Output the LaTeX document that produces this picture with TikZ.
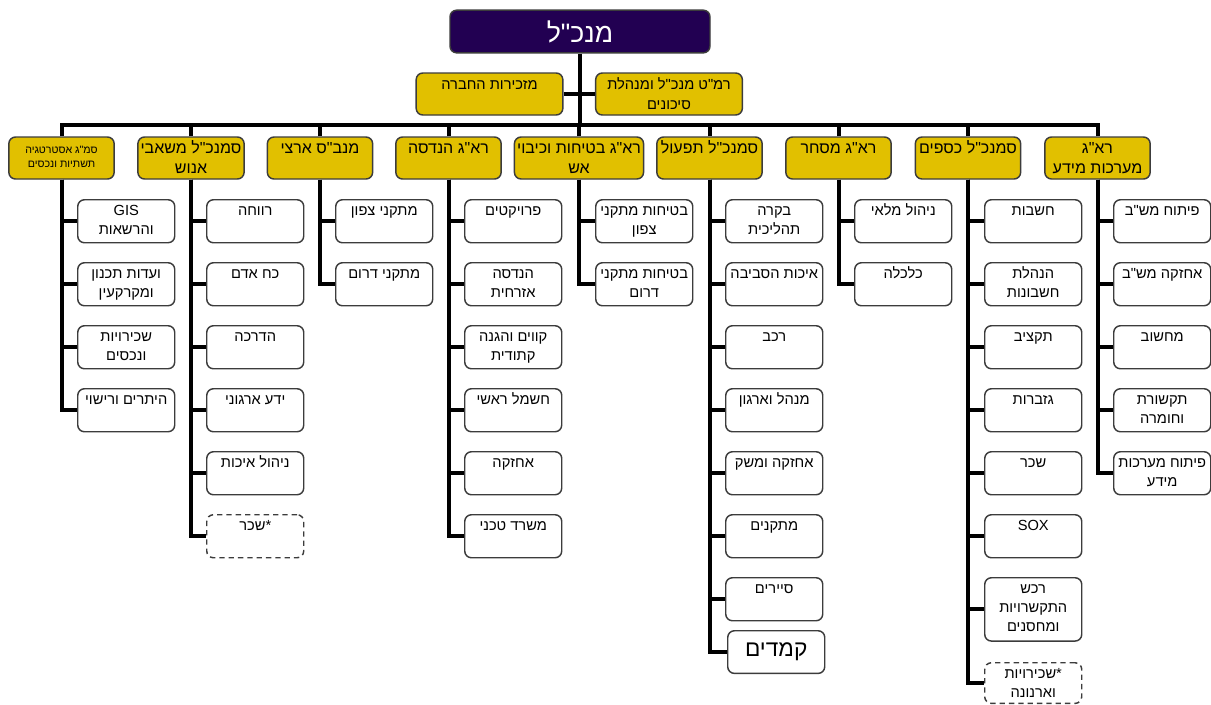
\documentclass[tikz,border=0pt]{standalone}
\usepackage{fontspec}
\setmainfont{Liberation Sans}
\newfontfamily\hebfont[Script=Hebrew]{Liberation Sans}
\TeXXeTstate=1
\newcommand{\heb}[1]{\beginR #1\endR}
\newcommand{\two}[2]{\begin{tabular}[t]{@{}c@{}}#1\\#2\end{tabular}}
\newcommand{\three}[3]{\begin{tabular}[t]{@{}c@{}}#1\\#2\\#3\end{tabular}}
\definecolor{ceopurple}{RGB}{34,0,82}
\definecolor{headyellow}{RGB}{225,192,0}
\definecolor{boxgray}{RGB}{60,60,60}

\begin{document}
\begin{tikzpicture}[x=0.75pt,y=-0.75pt]
            \tikzset{box/.style = {draw=boxgray, line width=1.1pt, rounded corners=5pt, inner sep=2pt}}
            \tikzset{ceobox/.style = {box, fill=ceopurple, text=white, minimum width=195pt, minimum height=32pt, font=\hebfont\fontsize{20}{24}\selectfont}}
            \tikzset{headbox/.style = {box, fill=headyellow, minimum width=79pt, text height=10pt, text depth=17.5pt, font=\hebfont\fontsize{12}{15}\selectfont}}
            \tikzset{kidbox/.style = {box, anchor=north west, minimum width=72.75pt, text height=10pt, text depth=18.25pt, font=\hebfont\fontsize{11}{14}\selectfont}}
            \tikzset{kiddash/.style = {kidbox, dash pattern=on 4pt off 3pt}}
            \tikzset{edge/.style = {line width=3pt}}
            \useasboundingbox (0,0) rectangle (1211,704);
            \node[ceobox] (ceo) at (580, 31.5) {\heb{מנכ"ל}};
            \node[headbox, minimum width=110pt, font=\hebfont\fontsize{11}{15}\selectfont] (secr) at (489.5, 94) {\heb{מזכירות החברה}};
            \node[headbox, minimum width=110pt, font=\hebfont\fontsize{11}{15}\selectfont] (ramat) at (669, 94) {\two{\heb{רמ"ט מנכ"ל ומנהלת}}{\heb{סיכונים}}};
            \coordinate (bar) at (580, 125);
            \node[headbox, font=\hebfont\fontsize{8}{11}\selectfont] (strat) at (61.5, 158) {\two{\heb{סמ"ג אסטרטגיה}}{\heb{תשתיות ונכסים}}};
            \node[headbox] (hr) at (191, 158) {\two{\heb{סמנכ"ל משאבי}}{\heb{אנוש}}};
            \node[headbox] (mnbs) at (320, 158) {\heb{מנב"ס ארצי}};
            \node[headbox] (eng) at (448.5, 158) {\heb{רא"ג הנדסה}};
            \node[headbox, minimum width=91.5pt] (safe) at (579, 158) {\two{\heb{רא"ג בטיחות וכיבוי}}{\heb{אש}}};
            \node[headbox] (ops) at (709.5, 158) {\heb{סמנכ"ל תפעול}};
            \node[headbox] (trade) at (838.5, 158) {\heb{רא"ג מסחר}};
            \node[headbox] (fin) at (968, 158) {\heb{סמנכ"ל כספים}};
            \node[headbox] (info) at (1097.5, 158) {\two{\heb{רא"ג}}{\heb{מערכות מידע}}};
            \node[kidbox] (strat1) at (77, 199) {\two{GIS}{\heb{והרשאות}}};
            \node[kidbox] (strat2) at (77, 262) {\two{\heb{ועדות תכנון}}{\heb{ומקרקעין}}};
            \node[kidbox] (strat3) at (77, 325) {\two{\heb{שכירויות}}{\heb{ונכסים}}};
            \node[kidbox] (strat4) at (77, 388) {\heb{היתרים ורישוי}};
            \node[kidbox] (hr1) at (206, 199) {\heb{רווחה}};
            \node[kidbox] (hr2) at (206, 262) {\heb{כח אדם}};
            \node[kidbox] (hr3) at (206, 325) {\heb{הדרכה}};
            \node[kidbox] (hr4) at (206, 388) {\heb{ידע ארגוני}};
            \node[kidbox] (hr5) at (206, 451) {\heb{ניהול איכות}};
            \node[kiddash] (hr6) at (206, 514) {\heb{*שכר}};
            \node[kidbox] (mnbs1) at (335, 199) {\heb{מתקני צפון}};
            \node[kidbox] (mnbs2) at (335, 262) {\heb{מתקני דרום}};
            \node[kidbox] (eng1) at (464, 199) {\heb{פרויקטים}};
            \node[kidbox] (eng2) at (464, 262) {\two{\heb{הנדסה}}{\heb{אזרחית}}};
            \node[kidbox] (eng3) at (464, 325) {\two{\heb{קווים והגנה}}{\heb{קתודית}}};
            \node[kidbox] (eng4) at (464, 388) {\heb{חשמל ראשי}};
            \node[kidbox] (eng5) at (464, 451) {\heb{אחזקה}};
            \node[kidbox] (eng6) at (464, 514) {\heb{משרד טכני}};
            \node[kidbox] (safe1) at (595, 199) {\two{\heb{בטיחות מתקני}}{\heb{צפון}}};
            \node[kidbox] (safe2) at (595, 262) {\two{\heb{בטיחות מתקני}}{\heb{דרום}}};
            \node[kidbox] (ops1) at (725, 199) {\two{\heb{בקרה}}{\heb{תהליכית}}};
            \node[kidbox] (ops2) at (725, 262) {\heb{איכות הסביבה}};
            \node[kidbox] (ops3) at (725, 325) {\heb{רכב}};
            \node[kidbox] (ops4) at (725, 388) {\heb{מנהל וארגון}};
            \node[kidbox] (ops5) at (725, 451) {\heb{אחזקה ומשק}};
            \node[kidbox] (ops6) at (725, 514) {\heb{מתקנים}};
            \node[kidbox] (ops7) at (725, 577) {\heb{סיירים}};
            \node[box, anchor=north west, minimum width=72.75pt, minimum height=32pt, font=\hebfont\fontsize{17}{20}\selectfont] (ops8) at (727, 630) {\heb{קמדים}};
            \node[kidbox] (trade1) at (854, 199) {\heb{ניהול מלאי}};
            \node[kidbox] (trade2) at (854, 262) {\heb{כלכלה}};
            \node[kidbox] (fin1) at (984, 199) {\heb{חשבות}};
            \node[kidbox] (fin2) at (984, 262) {\two{\heb{הנהלת}}{\heb{חשבונות}}};
            \node[kidbox] (fin3) at (984, 325) {\heb{תקציב}};
            \node[kidbox] (fin4) at (984, 388) {\heb{גזברות}};
            \node[kidbox] (fin5) at (984, 451) {\heb{שכר}};
            \node[kidbox] (fin6) at (984, 514) {SOX};
            \node[kidbox, text depth=33.5pt] (fin7) at (984, 577) {\three{\heb{רכש}}{\heb{התקשרויות}}{\heb{ומחסנים}}};
            \node[kiddash, text depth=16.5pt] (fin8) at (984, 662) {\two{\heb{*שכירויות}}{\heb{וארנונה}}};
            \node[kidbox] (info1) at (1113, 199) {\heb{פיתוח מש"ב}};
            \node[kidbox] (info2) at (1113, 262) {\heb{אחזקה מש"ב}};
            \node[kidbox] (info3) at (1113, 325) {\heb{מחשוב}};
            \node[kidbox] (info4) at (1113, 388) {\two{\heb{תקשורת}}{\heb{וחומרה}}};
            \node[kidbox] (info5) at (1113, 451) {\two{\heb{פיתוח מערכות}}{\heb{מידע}}};
            \draw[edge] (ceo.south) -- (bar);
            \draw[edge] (secr.east) -- (ramat.west);
            \draw[edge] (strat.north) |- (bar);
            \draw[edge] (hr.north) |- (bar);
            \draw[edge] (mnbs.north) |- (bar);
            \draw[edge] (eng.north) |- (bar);
            \draw[edge] (safe.north) |- (bar);
            \draw[edge] (ops.north) |- (bar);
            \draw[edge] (trade.north) |- (bar);
            \draw[edge] (fin.north) |- (bar);
            \draw[edge] (info.north) |- (bar);
            \draw[edge] (strat.south) |- (strat1.west);
            \draw[edge] (strat.south) |- (strat2.west);
            \draw[edge] (strat.south) |- (strat3.west);
            \draw[edge] (strat.south) |- (strat4.west);
            \draw[edge] (hr.south) |- (hr1.west);
            \draw[edge] (hr.south) |- (hr2.west);
            \draw[edge] (hr.south) |- (hr3.west);
            \draw[edge] (hr.south) |- (hr4.west);
            \draw[edge] (hr.south) |- (hr5.west);
            \draw[edge] (hr.south) |- (hr6.west);
            \draw[edge] (mnbs.south) |- (mnbs1.west);
            \draw[edge] (mnbs.south) |- (mnbs2.west);
            \draw[edge] (eng.south) |- (eng1.west);
            \draw[edge] (eng.south) |- (eng2.west);
            \draw[edge] (eng.south) |- (eng3.west);
            \draw[edge] (eng.south) |- (eng4.west);
            \draw[edge] (eng.south) |- (eng5.west);
            \draw[edge] (eng.south) |- (eng6.west);
            \draw[edge] (safe.south) |- (safe1.west);
            \draw[edge] (safe.south) |- (safe2.west);
            \draw[edge] (ops.south) |- (ops1.west);
            \draw[edge] (ops.south) |- (ops2.west);
            \draw[edge] (ops.south) |- (ops3.west);
            \draw[edge] (ops.south) |- (ops4.west);
            \draw[edge] (ops.south) |- (ops5.west);
            \draw[edge] (ops.south) |- (ops6.west);
            \draw[edge] (ops.south) |- (ops7.west);
            \draw[edge] (ops.south) |- (ops8.west);
            \draw[edge] (trade.south) |- (trade1.west);
            \draw[edge] (trade.south) |- (trade2.west);
            \draw[edge] (fin.south) |- (fin1.west);
            \draw[edge] (fin.south) |- (fin2.west);
            \draw[edge] (fin.south) |- (fin3.west);
            \draw[edge] (fin.south) |- (fin4.west);
            \draw[edge] (fin.south) |- (fin5.west);
            \draw[edge] (fin.south) |- (fin6.west);
            \draw[edge] (fin.south) |- (fin7.west);
            \draw[edge] (fin.south) |- (fin8.west);
            \draw[edge] (info.south) |- (info1.west);
            \draw[edge] (info.south) |- (info2.west);
            \draw[edge] (info.south) |- (info3.west);
            \draw[edge] (info.south) |- (info4.west);
            \draw[edge] (info.south) |- (info5.west);
          \end{tikzpicture}
\end{document}
